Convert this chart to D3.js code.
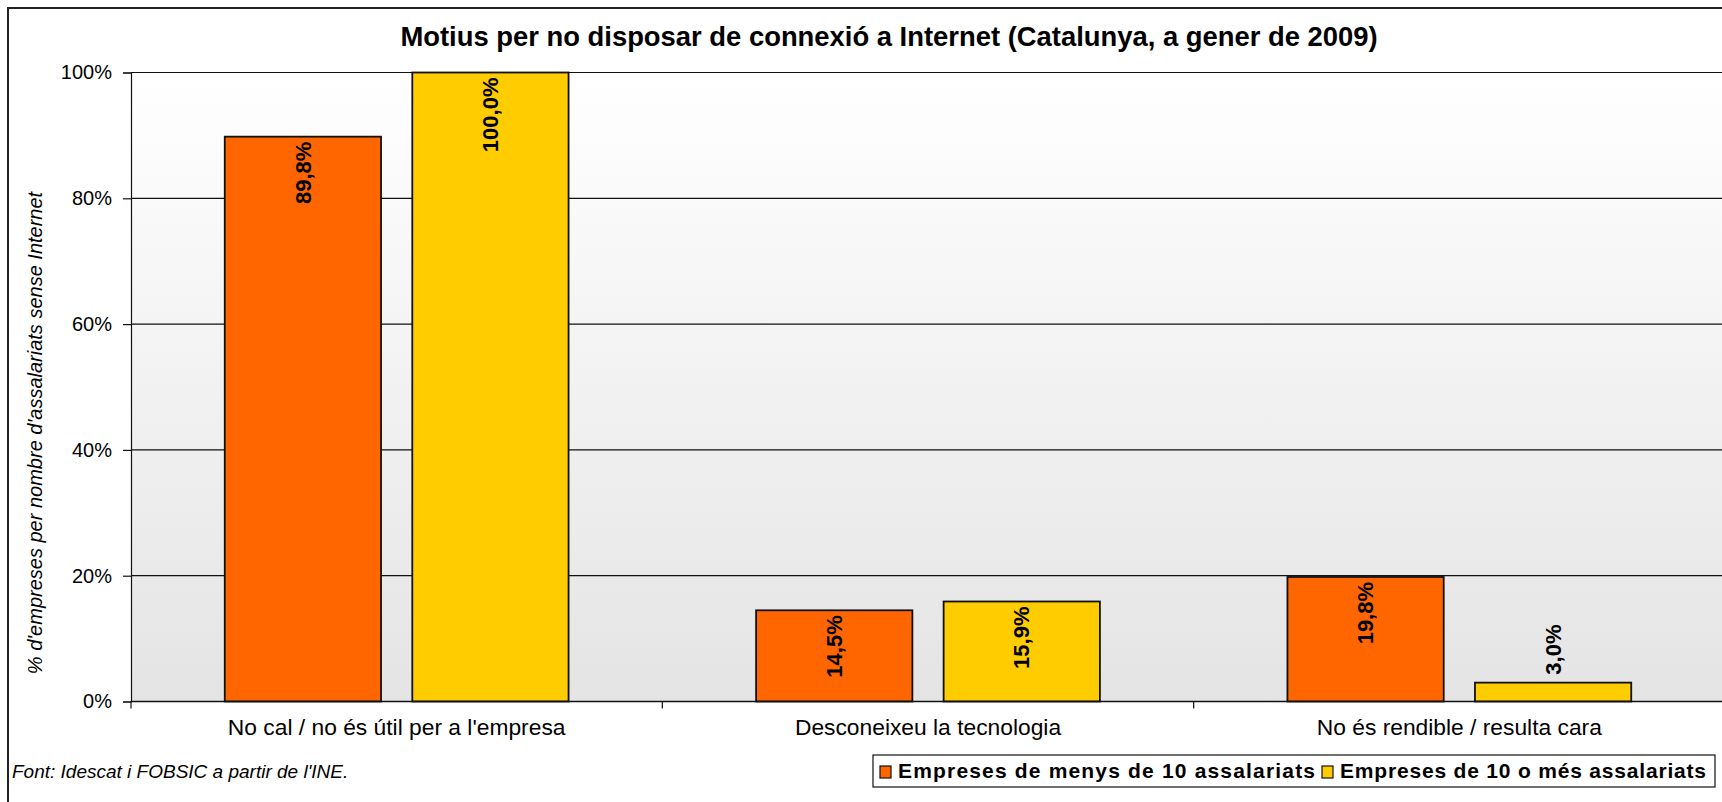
<!DOCTYPE html>
<html>
<head>
<meta charset="utf-8">
<script src="https://cdn.jsdelivr.net/npm/d3@7"></script>
<style>
  body { margin: 0; background: #fff; }
  text { font-family: "Liberation Sans", Arial, sans-serif; }
</style>
</head>
<body>
<script>

// data
const categories = ["No cal / no és útil per a l'empresa", "Desconeixeu la tecnologia", "No és rendible / resulta cara"];
const seriesNames = ["Empreses de menys de 10 assalariats", "Empreses de 10 o més assalariats"];
const menys10 = [89.8, 14.5, 19.8];
const mes10 = [100.0, 15.9, 3.0];
const yTicks = [0, 20, 40, 60, 80, 100];
const colors = ["#FF6600", "#FFCC00"];

const width = 1722
    , height = 802
    , plot = { left: 131, right: 1725, top: 72.5, bottom: 701.5 }

const svg = d3.select('body').append('svg')
    .attr('width', width)
    .attr('height', height);

// plot area gradient (white at the top, light grey at the bottom)
const grad = svg.append('defs').append('linearGradient')
    .attr('id', 'bg')
    .attr('x1', 0).attr('y1', 0).attr('x2', 0).attr('y2', 1);
grad.append('stop').attr('offset', '0%').attr('stop-color', '#ffffff');
grad.append('stop').attr('offset', '100%').attr('stop-color', '#e4e4e4');

// chart area border (cut off at right and bottom)
svg.append('rect')
    .attr('x', 8).attr('y', 8)
    .attr('width', 1900).attr('height', 900)
    .attr('fill', 'none')
    .attr('stroke', '#222')
    .attr('stroke-width', 2);

// scales
const xScale = d3.scaleBand()
    .domain(categories)
    .range([plot.left, plot.right]);

// gap width 120%, overlap -20%
const xInner = d3.scaleBand()
    .domain(seriesNames)
    .range([0, xScale.bandwidth()])
    .paddingInner(0.2 / 1.2)
    .paddingOuter(0.5);

const yScale = d3.scaleLinear()
    .domain([0, 100])
    .range([plot.bottom, plot.top]);

svg.append('rect')
    .attr('x', plot.left).attr('y', plot.top)
    .attr('width', plot.right - plot.left)
    .attr('height', plot.bottom - plot.top)
    .attr('fill', 'url(#bg)');

// gridlines
svg.append('g').selectAll('line').data(yTicks.filter(d => d > 0))
    .enter().append('line')
    .attr('x1', plot.left).attr('x2', plot.right)
    .attr('y1', d => yScale(d)).attr('y2', d => yScale(d))
    .attr('stroke', '#111')
    .attr('stroke-width', 1.2);

// bars
const series = [menys10, mes10];
const barData = [];
categories.forEach((c, i) => {
    seriesNames.forEach((s, j) => barData.push({ cat: c, name: s, value: series[j][i], color: colors[j] }));
});

svg.append('g').selectAll('rect').data(barData)
    .enter().append('rect')
    .attr('x', d => xScale(d.cat) + xInner(d.name))
    .attr('y', d => yScale(d.value))
    .attr('width', xInner.bandwidth())
    .attr('height', d => plot.bottom - yScale(d.value))
    .attr('fill', d => d.color)
    .attr('stroke', '#111')
    .attr('stroke-width', 1.8);

// value labels, rotated; inside the top of the bar unless it does not fit
const fmt = v => d3.format('.1f')(v).replace('.', ',') + '%';
const fits = d => plot.bottom - yScale(d.value) > 80;
svg.append('g').selectAll('text').data(barData)
    .enter().append('text')
    .attr('transform', d => {
        const cx = xScale(d.cat) + xInner(d.name) + xInner.bandwidth() / 2;
        const y = fits(d) ? yScale(d.value) + 5 : yScale(d.value) - 8;
        return 'translate(' + cx + ',' + y + ') rotate(-90)';
    })
    .attr('text-anchor', d => fits(d) ? 'end' : 'start')
    .attr('dy', '0.35em')
    .attr('font-size', '22px')
    .attr('font-weight', 'bold')
    .text(d => fmt(d.value));

// y axis
const yAxis = svg.append('g')
    .attr('transform', 'translate(' + plot.left + ',0)')
    .call(d3.axisLeft(yScale).tickValues(yTicks).tickSize(8).tickPadding(11).tickFormat(d => d + '%'));
yAxis.selectAll('text').attr('font-size', '20px').attr('fill', '#000').attr('font-family', '"Liberation Sans", Arial, sans-serif');
yAxis.selectAll('line, path').attr('stroke', '#111').attr('stroke-width', 1.2);

// x axis, ticks between the categories
const xAxis = svg.append('g')
    .attr('transform', 'translate(0,' + plot.bottom + ')');
xAxis.append('line')
    .attr('x1', plot.left).attr('x2', plot.right)
    .attr('stroke', '#111').attr('stroke-width', 1.5);
xAxis.selectAll('.tk').data(categories)
    .enter().append('line')
    .attr('x1', d => xScale(d)).attr('x2', d => xScale(d))
    .attr('y1', 0).attr('y2', 7)
    .attr('stroke', '#111').attr('stroke-width', 1.2);
xAxis.selectAll('.lbl').data(categories)
    .enter().append('text')
    .attr('x', d => xScale(d) + xScale.bandwidth() / 2)
    .attr('y', 33)
    .attr('text-anchor', 'middle')
    .attr('font-size', '22.8px')
    .text(d => d);

// title
svg.append('text')
    .attr('x', 889).attr('y', 46)
    .attr('text-anchor', 'middle')
    .attr('font-size', '27.4px')
    .attr('font-weight', 'bold')
    .text('Motius per no disposar de connexió a Internet (Catalunya, a gener de 2009)');

// y axis title
svg.append('text')
    .attr('transform', 'translate(42,433) rotate(-90)')
    .attr('text-anchor', 'middle')
    .attr('font-size', '20px')
    .attr('font-style', 'italic')
    .text("% d'empreses per nombre d'assalariats sense Internet");

// source
svg.append('text')
    .attr('x', 12).attr('y', 778)
    .attr('font-size', '19px')
    .attr('font-style', 'italic')
    .text("Font: Idescat i FOBSIC a partir de l'INE.");

// legend
const legend = svg.append('g');
legend.append('rect')
    .attr('x', 873).attr('y', 755)
    .attr('width', 842).attr('height', 32)
    .attr('fill', '#fff')
    .attr('stroke', '#111')
    .attr('stroke-width', 1.2);
const legendX = [880, 1322];
const legendLen = [417, 366];
const item = legend.selectAll('.item').data(seriesNames)
    .enter().append('g')
    .attr('transform', (d, i) => 'translate(' + legendX[i] + ',0)');
item.append('rect')
    .attr('x', 0).attr('y', 766)
    .attr('width', 11).attr('height', 12)
    .attr('fill', (d, i) => colors[i])
    .attr('stroke', '#111')
    .attr('stroke-width', 1.2);
item.append('text')
    .attr('x', 18).attr('y', 778)
    .attr('font-size', '21px')
    .attr('font-weight', 'bold')
    .attr('textLength', (d, i) => legendLen[i])
    .attr('lengthAdjust', 'spacing')
    .text(d => d);

</script>
</body>
</html>
